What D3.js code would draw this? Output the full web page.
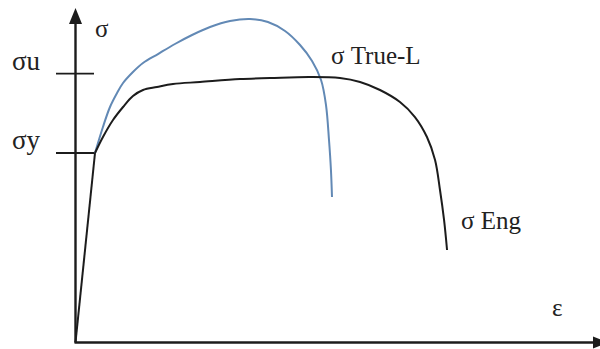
<!DOCTYPE html>
<html>
<head>
<meta charset="utf-8">
<script src="https://cdn.jsdelivr.net/npm/d3@7"></script>
<style>
  html, body { margin: 0; padding: 0; background: #fff; }
  svg { display: block; }
</style>
</head>
<body>
<svg id="chart" width="600" height="349"></svg>
<script>
// Strain in %, stress in MPa (schematic tensile test)
const yieldPoint = { strain: 1.3, stress: 315.8 };
const ultimateStress = 448;

// Engineering stress-strain curve, plastic part (starts at the yield point)
const engStrain = [1.3, 1.83, 2.5, 3.17, 3.83, 4.5, 5.43, 6.5, 8.3, 10.97, 12.97, 15.63, 17.63, 18.97, 20.3, 21.63, 22.63, 23.43, 23.97, 24.3, 24.57, 24.77];
const engStress = [315.8, 342.5, 370.8, 392.5, 410.8, 420.8, 425.8, 430.8, 434.2, 439.2, 440.8, 442.5, 440.8, 434.2, 420.8, 400.8, 375.8, 342.5, 304.2, 254.2, 204.2, 154.2];

// True stress curve (true-L), plastic part
const trueStrain = [1.3, 1.83, 2.3, 2.77, 3.17, 3.83, 4.5, 5.5, 6.63, 7.77, 8.97, 10.3, 11.63, 12.83, 13.97, 14.97, 15.77, 16.37, 16.7, 16.9, 17.03, 17.1];
const trueStress = [315.8, 359.2, 392.5, 415.8, 432.5, 450.8, 465.8, 480.8, 497.5, 512.5, 525.8, 535.8, 539.2, 534.2, 519.2, 495.8, 469.2, 437.5, 395.8, 337.5, 287.5, 242.5];

// Axis and curve labels
const yTickLabels = ["σy", "σu"];
const yAxisLabel = "σ";
const xAxisLabel = "ε";
const curveLabels = ["σ True-L", "σ Eng"];

const serif = '"Liberation Serif"';

const svg = d3.select("#chart");

const x = d3.scaleLinear().domain([0, 35]).range([75.5, 600.5]);
const y = d3.scaleLinear().domain([0, 550]).range([342.5, 12.5]);

const ink = "#1c1c1c";
const blue = "#6289b5";

// Axes with arrowheads
svg.append("line")
  .attr("x1", x(0)).attr("y1", y(0))
  .attr("x2", x(0)).attr("y2", 20)
  .attr("stroke", ink).attr("stroke-width", 2.4);
svg.append("path")
  .attr("d", `M${x(0)},8 L${x(0) - 6.5},24 L${x(0) + 6.5},24 Z`)
  .attr("fill", ink);

svg.append("line")
  .attr("x1", x(0) - 1).attr("y1", y(0))
  .attr("x2", 596).attr("y2", y(0))
  .attr("stroke", ink).attr("stroke-width", 2.4);
svg.append("path")
  .attr("d", `M608,${y(0)} L593,${y(0) - 6} L593,${y(0) + 6} Z`)
  .attr("fill", ink);

// Ticks at yield and ultimate stress
const tickStresses = [yieldPoint.stress, ultimateStress];
svg.selectAll("line.tick")
  .data(tickStresses)
  .join("line")
  .attr("class", "tick")
  .attr("x1", 56)
  .attr("x2", (d, i) => i === 0 ? x(yieldPoint.strain) : 94)
  .attr("y1", d => y(d))
  .attr("y2", d => y(d))
  .attr("stroke", ink).attr("stroke-width", 1.8);

const label = (sel, size) => sel
  .attr("font-size", size)
  .attr("fill", "#222")
  .style("font-family", serif);

svg.selectAll("text.tick")
  .data(tickStresses)
  .join("text")
  .attr("class", "tick")
  .attr("x", 12)
  .attr("y", d => y(d) - 4)
  .call(label, 27)
  .text((d, i) => yTickLabels[i]);

svg.append("text")
  .attr("x", 95).attr("y", 37)
  .call(label, 25)
  .text(yAxisLabel);

svg.append("text")
  .attr("x", 552).attr("y", 316)
  .call(label, 25)
  .text(xAxisLabel);

// Elastic segment, shared by both curves
svg.append("path")
  .datum([{ strain: 0, stress: 0 }, yieldPoint])
  .attr("d", d3.line().x(d => x(d.strain)).y(d => y(d.stress)))
  .attr("fill", "none").attr("stroke", ink).attr("stroke-width", 2);

const smooth = d3.line()
  .x(d => x(d[0]))
  .y(d => y(d[1]))
  .curve(d3.curveCatmullRom.alpha(0.5));

svg.append("path")
  .datum(d3.zip(trueStrain, trueStress))
  .attr("d", smooth)
  .attr("fill", "none").attr("stroke", blue).attr("stroke-width", 2);

svg.append("path")
  .datum(d3.zip(engStrain, engStress))
  .attr("d", smooth)
  .attr("fill", "none").attr("stroke", ink).attr("stroke-width", 2);

// Curve labels
svg.append("text")
  .attr("x", 331).attr("y", 64)
  .call(label, 25)
  .text(curveLabels[0]);

svg.append("text")
  .attr("x", 461).attr("y", 229)
  .call(label, 25)
  .text(curveLabels[1]);
</script>
</body>
</html>
